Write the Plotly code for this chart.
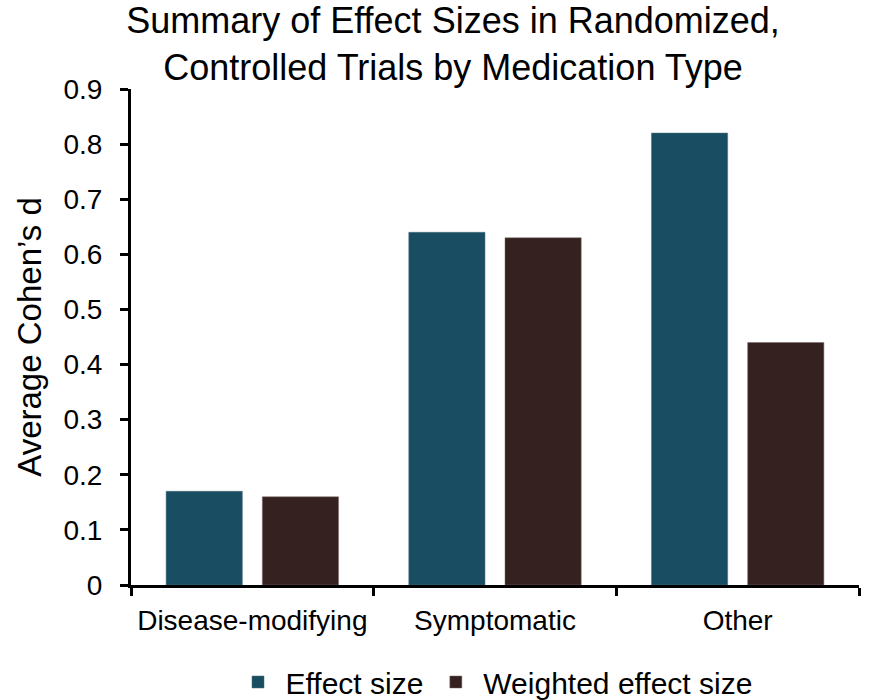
import plotly.graph_objects as go

categories = ["Disease-modifying", "Symptomatic", "Other"]
effect_size = [0.17, 0.64, 0.82]
weighted_effect_size = [0.16, 0.63, 0.44]
y_ticks = [0, 0.1, 0.2, 0.3, 0.4, 0.5, 0.6, 0.7, 0.8, 0.9]
y_tick_labels = ["0", "0.1", "0.2", "0.3", "0.4", "0.5", "0.6", "0.7", "0.8", "0.9"]

FONT = "Liberation Sans, Arial, sans-serif"

fig = go.Figure()
fig.add_trace(go.Bar(x=categories, y=effect_size, name="Effect size",
                     marker=dict(color="#194E62", line=dict(color="#4a6d7a", width=0.5))))
fig.add_trace(go.Bar(x=categories, y=weighted_effect_size, name="Weighted effect size",
                     marker=dict(color="#35211F", line=dict(color="#7a6866", width=0.5))))

fig.update_layout(
    width=871, height=700,
    margin=dict(l=131, r=12, t=89, b=115),
    paper_bgcolor="white", plot_bgcolor="white",
    font=dict(family=FONT, color="black"),
    barmode="group", bargap=0.207, bargroupgap=0.208,
    title=dict(text="Summary of Effect Sizes in Randomized,<br>Controlled Trials by Medication Type",
               x=453/871, xref="container", xanchor="center",
               y=1 - 33/700, yref="container", yanchor="middle",
               font=dict(size=36, family=FONT, color="black")),
    showlegend=True,
    legend=dict(orientation="h", x=494/871, xref="container", xanchor="center",
                y=1 - 682/700, yref="container", yanchor="middle",
                font=dict(size=30, family=FONT, color="black"),
                itemwidth=45, traceorder="normal"),
)
fig.update_yaxes(range=[0, 0.9], tickvals=y_ticks, ticktext=y_tick_labels,
                 showline=True, linecolor="black", linewidth=3,
                 ticks="outside", ticklen=8, tickwidth=3, tickcolor="black",
                 showgrid=False, zeroline=False,
                 tickfont=dict(size=28, family=FONT, color="black"),
                 ticklabelstandoff=12,
                 title=dict(text="Average Cohen’s d", font=dict(size=33, family=FONT, color="black"),
                            standoff=12))
fig.update_xaxes(showline=True, linecolor="black", linewidth=3,
                 ticks="outside", ticklen=8, tickwidth=3, tickcolor="black",
                 tickson="boundaries", showgrid=False,
                 tickfont=dict(size=28, family=FONT, color="black"),
                 ticklabelstandoff=8)

fig.write_html("out.html")
